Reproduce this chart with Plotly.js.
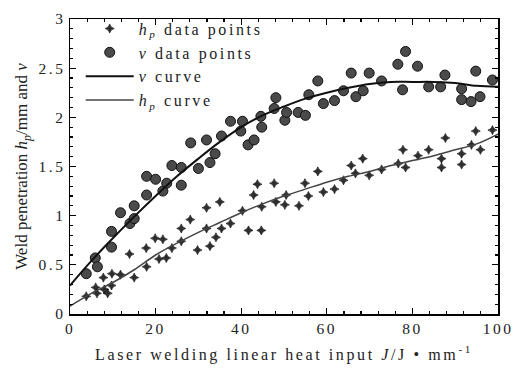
<!DOCTYPE html>
<html><head><meta charset="utf-8">
<script src="https://cdn.plot.ly/plotly-3.0.1.min.js"></script>
<style>
html,body{margin:0;padding:0;background:#fff}
#chart{width:517px;height:378px}
g.xtick text,g.ytick text{letter-spacing:2.5px !important}
.legendtext{letter-spacing:2.6px}
.xtitle{letter-spacing:2.6px}
</style>
</head><body><div id="chart"></div>
<script>
// h_p data points
const hpX = [3.8,6.0,6.3,7.8,8.0,8.8,9.8,9.7,11.8,13.9,15.0,17.8,17.9,19.9,20.8,21.7,22.5,23.8,26.0,26.0,28.1,29.8,31.9,31.9,32.7,34.1,35.0,35.4,37.5,40.3,41.7,42.9,43.8,44.7,44.8,47.7,48.1,50.2,50.5,53.5,54.9,55.7,57.9,59.2,61.8,63.9,65.7,66.7,68.4,69.9,72.8,76.7,77.8,78.4,81.3,83.8,86.8,86.8,87.7,91.5,91.5,93.8,94.8,95.9,98.7];
const hpY = [0.18,0.27,0.21,0.37,0.25,0.21,0.41,0.29,0.40,0.61,0.37,0.67,0.48,0.77,0.56,0.76,0.57,0.67,0.87,0.74,0.96,0.65,0.87,1.08,0.69,0.78,1.14,0.87,0.92,1.05,0.85,1.21,1.32,0.85,1.09,1.33,1.14,1.11,1.21,1.10,1.33,1.20,1.45,1.24,1.27,1.36,1.51,1.43,1.58,1.41,1.47,1.53,1.67,1.49,1.61,1.67,1.58,1.49,1.79,1.63,1.52,1.72,1.86,1.67,1.87];
// v data points
const vX = [3.8,5.9,6.4,9.7,9.7,11.8,14.0,15.0,15.0,17.9,17.9,20.0,21.7,22.6,23.8,26.0,26.0,28.2,30.0,31.9,32.7,33.9,35.4,37.5,39.9,40.3,41.6,43.0,44.6,44.8,47.7,48.1,50.2,50.6,53.3,55.0,55.8,57.9,59.2,61.8,63.9,65.7,66.8,68.5,69.9,72.8,76.6,77.7,78.4,81.2,83.8,86.6,87.6,91.5,91.5,93.7,94.8,95.8,98.7];
const vY = [0.41,0.57,0.48,0.68,0.84,1.03,0.92,0.97,1.10,1.21,1.40,1.37,1.25,1.33,1.51,1.49,1.31,1.74,1.48,1.77,1.54,1.63,1.81,1.96,1.86,1.96,1.72,1.77,2.01,1.90,2.09,2.20,1.97,2.05,2.05,2.02,2.23,2.37,2.14,2.17,2.27,2.45,2.21,2.27,2.45,2.37,2.54,2.28,2.67,2.52,2.31,2.31,2.43,2.29,2.18,2.16,2.47,2.21,2.38];
// fitted curves
const curveX = [0,5,10,15,20,25,30,35,40,45,50,55,60,65,70,75,80,85,90,95,100];
const vCurve = [0.29,0.54,0.77,0.99,1.20,1.40,1.58,1.75,1.90,2.02,2.11,2.19,2.25,2.30,2.34,2.36,2.36,2.36,2.35,2.32,2.31];
const hpCurve = [0.08,0.21,0.32,0.45,0.60,0.72,0.83,0.93,1.03,1.12,1.20,1.27,1.34,1.40,1.45,1.51,1.56,1.61,1.67,1.73,1.83];
const xTicks = [0,20,40,60,80,100];
const yTicks = [0,0.5,1,1.5,2,2.5,3];
const yTickText = ['0','0.5','1','1.5','2','2.5','3'];

const F = 'Liberation Serif, Times New Roman, serif';
const traces = [
  {x:hpX, y:hpY, mode:'markers', type:'scatter', name:'<i>h</i><sub><i>p</i></sub> data points',
   marker:{symbol:'star-diamond', size:6.5, color:'#2e2e2e', line:{width:0.6,color:'#000'}}},
  {x:vX, y:vY, mode:'markers', type:'scatter', name:'<i>v</i> data points',
   marker:{symbol:'circle', size:10, color:'#4a4a4a', line:{width:1,color:'#111'}}},
  {x:curveX, y:vCurve, mode:'lines', type:'scatter', name:'<i>v</i> curve',
   line:{color:'#111', width:2, shape:'spline'}},
  {x:curveX, y:hpCurve, mode:'lines', type:'scatter', name:'<i>h</i><sub><i>p</i></sub> curve',
   line:{color:'#444', width:1.5, shape:'spline'}}
];
const axisCommon = {
  showgrid:false, zeroline:false, showline:true, linecolor:'#000', linewidth:1.5,
  mirror:'allticks', ticks:'inside', ticklen:6, tickwidth:1.2, tickcolor:'#000',
  tickfont:{family:F, size:15.5, color:'#222'}
};
const layout = {
  width:517, height:378,
  margin:{l:70, r:19, t:14, b:64},
  paper_bgcolor:'#fff', plot_bgcolor:'#fff',
  showlegend:true,
  legend:{x:0.025, y:1.025, xanchor:'left', yanchor:'top', bgcolor:'rgba(0,0,0,0)',
          font:{family:F, size:16, color:'#222'}, tracegroupgap:0, itemwidth:48},
  xaxis:Object.assign({}, axisCommon, {
    range:[0,100], tickvals:xTicks, ticktext:xTicks.map(String),
    minor:{dtick:4, ticks:'inside', ticklen:3, tickcolor:'#000', showgrid:false},
    title:{text:'Laser welding linear heat input <i>J</i>/J • mm<sup>-1</sup>', font:{family:F, size:16, color:'#222'}, standoff:12}
  }),
  yaxis:Object.assign({}, axisCommon, {
    range:[0,3], tickvals:yTicks, ticktext:yTickText,
    minor:{dtick:0.1, ticks:'inside', ticklen:3, tickcolor:'#000', showgrid:false},
    title:{text:'Weld penetration <i>h</i><sub><i>p</i></sub>/mm and <i>v</i>', font:{family:F, size:17, color:'#222'}, standoff:6}
  })
};
Plotly.newPlot('chart', traces, layout, {staticPlot:true, displayModeBar:false});
</script></body></html>
